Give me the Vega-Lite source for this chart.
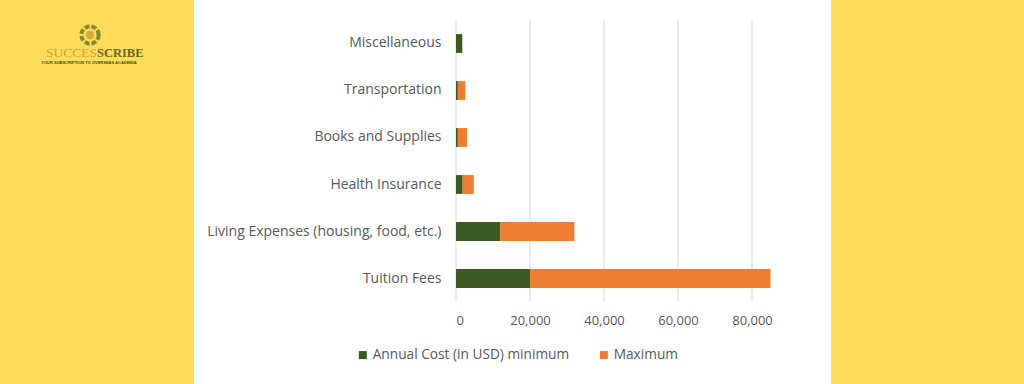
{
  "$schema": "https://vega.github.io/schema/vega-lite/v6.json",
  "background": "#FFFFFF",
  "padding": 0,
  "spacing": 12,
  "config": {
    "view": {"stroke": null},
    "font": "Open Sans"
  },
  "hconcat": [
    {
      "width": 194,
      "height": 384,
      "view": {"fill": "#FEDB58", "stroke": null},
      "data": {"values": [
        {"x": 97, "y": 57, "t": "SUCCES", "part": "a"},
        {"x": 97, "y": 57, "t": "SCRIBE", "part": "b"},
        {"x": 89, "y": 63, "t": "YOUR SUBSCRIPTION TO OVERSEAS ACADEMIA", "part": "c"}
      ]},
      "layer": [
        {
          "data": {"values": [{"x": 90, "y": 35}]},
          "mark": {"type": "point", "shape": "circle", "filled": false, "stroke": "#4E6B1E", "strokeWidth": 4, "size": 300, "strokeDash": [5, 2]},
          "encoding": {
            "x": {"field": "x", "type": "quantitative", "scale": {"domain": [0, 194]}, "axis": null},
            "y": {"field": "y", "type": "quantitative", "scale": {"domain": [0, 384], "reverse": true}, "axis": null}
          }
        },
        {
          "data": {"values": [{"x": 90, "y": 35}]},
          "mark": {"type": "point", "shape": "circle", "filled": true, "color": "#D9A93A", "size": 70, "opacity": 1},
          "encoding": {
            "x": {"field": "x", "type": "quantitative", "scale": {"domain": [0, 194]}, "axis": null},
            "y": {"field": "y", "type": "quantitative", "scale": {"domain": [0, 384], "reverse": true}, "axis": null}
          }
        },
        {
          "transform": [{"filter": "datum.part == 'a'"}],
          "mark": {"type": "text", "align": "right", "baseline": "alphabetic", "font": "Liberation Serif", "fontSize": 13.5, "color": "#C9A43A"},
          "encoding": {
            "x": {"field": "x", "type": "quantitative", "scale": {"domain": [0, 194]}, "axis": null},
            "y": {"field": "y", "type": "quantitative", "scale": {"domain": [0, 384], "reverse": true}, "axis": null},
            "text": {"field": "t"}
          }
        },
        {
          "transform": [{"filter": "datum.part == 'b'"}],
          "mark": {"type": "text", "align": "left", "baseline": "alphabetic", "font": "Liberation Serif", "fontSize": 12.5, "fontWeight": "bold", "color": "#6A6A1C"},
          "encoding": {
            "x": {"field": "x", "type": "quantitative", "scale": {"domain": [0, 194]}, "axis": null},
            "y": {"field": "y", "type": "quantitative", "scale": {"domain": [0, 384], "reverse": true}, "axis": null},
            "text": {"field": "t"}
          }
        },
        {
          "transform": [{"filter": "datum.part == 'c'"}],
          "mark": {"type": "text", "align": "center", "baseline": "middle", "font": "Liberation Sans", "fontSize": 4, "fontWeight": "bold", "color": "#3F4F1A"},
          "encoding": {
            "x": {"field": "x", "type": "quantitative", "scale": {"domain": [0, 194]}, "axis": null},
            "y": {"field": "y", "type": "quantitative", "scale": {"domain": [0, 384], "reverse": true}, "axis": null},
            "text": {"field": "t"}
          }
        }
      ]
    },
    {
      "width": 363,
      "height": 322,
      "layer": [
        {
          "data": {"values": [{"tick": 0}, {"tick": 20000}, {"tick": 40000}, {"tick": 60000}, {"tick": 80000}]},
          "mark": {"type": "rule", "color": "#D9D9D9", "strokeWidth": 1},
          "encoding": {
            "x": {"field": "tick", "type": "quantitative"},
            "y": {"datum": "Miscellaneous", "type": "nominal", "bandPosition": 0},
            "y2": {"datum": "Tuition Fees", "bandPosition": 1}
          }
        },
        {
          "data": {"values": [
            {"category": "Tuition Fees", "series": "Annual Cost (in USD) minimum", "cost": 20000},
            {"category": "Tuition Fees", "series": "Maximum", "cost": 65000},
            {"category": "Living Expenses (housing, food, etc.)", "series": "Annual Cost (in USD) minimum", "cost": 12000},
            {"category": "Living Expenses (housing, food, etc.)", "series": "Maximum", "cost": 20000},
            {"category": "Health Insurance", "series": "Annual Cost (in USD) minimum", "cost": 1800},
            {"category": "Health Insurance", "series": "Maximum", "cost": 3000},
            {"category": "Books and Supplies", "series": "Annual Cost (in USD) minimum", "cost": 500},
            {"category": "Books and Supplies", "series": "Maximum", "cost": 2500},
            {"category": "Transportation", "series": "Annual Cost (in USD) minimum", "cost": 500},
            {"category": "Transportation", "series": "Maximum", "cost": 2000},
            {"category": "Miscellaneous", "series": "Annual Cost (in USD) minimum", "cost": 1700}
          ]},
          "mark": {"type": "bar", "height": {"band": 0.4}},
          "encoding": {
            "y": {"field": "category", "type": "nominal"},
            "x": {"field": "cost", "type": "quantitative", "stack": "zero"},
            "color": {
              "field": "series", "type": "nominal",
              "scale": {"domain": ["Annual Cost (in USD) minimum", "Maximum"], "range": ["#3A5A22", "#ED7D31"]},
              "legend": {"title": null, "orient": "none", "legendX": 356, "legendY": 348, "direction": "horizontal", "symbolType": "square", "symbolSize": 64, "symbolStrokeWidth": 0, "labelFontSize": 13.7, "labelColor": "#595959", "labelFont": "Open Sans", "columnPadding": 27, "labelOffset": 3, "labelLimit": 400}
            },
            "order": {"field": "series", "sort": "ascending"}
          }
        }
      ],
      "encoding": {
        "y": {
          "field": "category", "type": "nominal",
          "sort": ["Miscellaneous", "Transportation", "Books and Supplies", "Health Insurance", "Living Expenses (housing, food, etc.)", "Tuition Fees"],
          "scale": {"domain": ["Miscellaneous", "Transportation", "Books and Supplies", "Health Insurance", "Living Expenses (housing, food, etc.)", "Tuition Fees"], "paddingInner": 0, "paddingOuter": 0.4255},
          "axis": {"title": null, "ticks": false, "domain": false, "grid": false, "labelPadding": 15, "labelFontSize": 14, "labelColor": "#595959", "labelFont": "Open Sans", "minExtent": 249, "maxExtent": 249, "labelLimit": 400}
        },
        "x": {
          "field": "cost", "type": "quantitative",
          "scale": {"domain": [0, 98100], "nice": false},
          "axis": {"title": null, "values": [0, 20000, 40000, 60000, 80000], "format": ",d", "ticks": false, "domain": false, "grid": false, "offset": -20, "labelPadding": 12, "labelFontSize": 13, "labelColor": "#595959", "labelFont": "Open Sans"}
        }
      }
    },
    {
      "width": 194,
      "height": 384,
      "view": {"fill": "#FEDB58", "stroke": null},
      "data": {"values": [{}]},
      "mark": {"type": "text", "text": ""}
    }
  ]
}
